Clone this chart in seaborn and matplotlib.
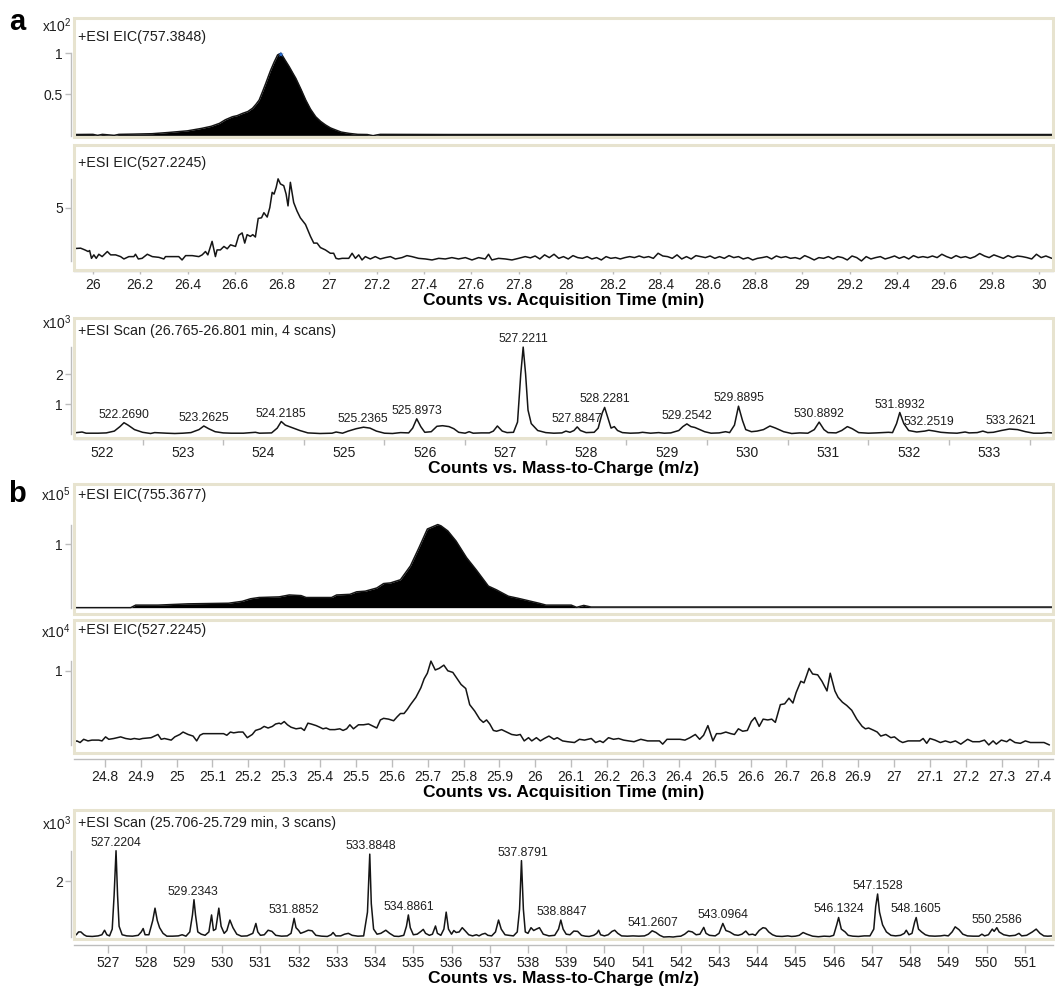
import numpy as np
import pandas as pd
import matplotlib
matplotlib.use("Agg")
import matplotlib.pyplot as plt
import seaborn as sns
from matplotlib.patches import Rectangle

# ------------------------------------------------------------------ data
# panel a, EIC 757.3848 (x10^2 counts) : (time, counts)
eic_a1 = [(25.92, 0.01), (26.00, 0.012), (26.02, 0.0), (26.04, 0.012), (26.09, 0.0), (26.11, 0.012),
          (26.17, 0.015), (26.25, 0.02), (26.32, 0.035), (26.40, 0.055), (26.46, 0.085), (26.50, 0.11),
          (26.535, 0.146), (26.56, 0.19), (26.59, 0.227), (26.61, 0.24), (26.633, 0.268), (26.655, 0.29),
          (26.675, 0.33), (26.69, 0.38), (26.703, 0.43), (26.717, 0.53), (26.731, 0.634), (26.742, 0.72),
          (26.752, 0.796), (26.766, 0.89), (26.781, 0.98), (26.795, 1.0), (26.812, 0.92), (26.83, 0.837),
          (26.845, 0.76), (26.858, 0.695), (26.88, 0.56), (26.90, 0.43), (26.92, 0.32), (26.942, 0.227),
          (26.963, 0.17), (26.984, 0.126), (27.005, 0.09), (27.027, 0.065), (27.05, 0.04), (27.083, 0.024),
          (27.12, 0.012), (27.16, 0.01), (27.185, -0.004), (27.20, 0.005), (27.215, 0.012), (27.5, 0.01),
          (28.0, 0.01), (29.0, 0.01), (30.06, 0.01)]
apex_a1 = [(26.795, 0.985)]

# panel a, EIC 527.2245 : (time, counts)
eic_a2 = [(25.922, 1.70), (25.948, 1.73), (25.966, 1.59), (25.980, 1.46), (25.986, 1.54), (25.994, 0.91),
          (26.004, 1.19),
          (26.014, 0.91), (26.025, 1.24), (26.039, 1.05), (26.061, 1.46), (26.075, 1.19), (26.096, 1.19),
          (26.117, 1.05), (26.131, 0.86), (26.152, 1.05), (26.173, 1.05), (26.180, 1.24), (26.192, 0.86),
          (26.208, 0.91), (26.230, 1.24), (26.251, 1.05), (26.279, 0.99), (26.300, 0.86), (26.307, 1.05),
          (26.335, 1.05), (26.363, 1.05), (26.377, 0.78), (26.392, 1.13), (26.420, 1.13), (26.448, 1.05),
          (26.462, 1.19), (26.476, 1.46), (26.486, 1.19), (26.504, 2.28), (26.518, 1.05), (26.525, 1.59),
          (26.539, 1.59), (26.554, 1.87), (26.568, 1.68), (26.582, 2.00), (26.603, 1.87), (26.617, 2.77),
          (26.631, 2.96), (26.642, 2.14), (26.652, 2.82), (26.666, 2.68), (26.676, 2.82), (26.687, 2.63),
          (26.699, 4.13), (26.713, 4.18), (26.723, 4.59), (26.737, 4.24), (26.748, 5.00), (26.758, 6.23),
          (26.766, 6.09), (26.775, 6.63), (26.783, 7.32), (26.793, 6.91), (26.807, 6.77), (26.817, 6.09),
          (26.825, 5.14), (26.835, 7.04), (26.849, 5.41), (26.863, 4.73), (26.877, 4.18), (26.899, 3.64),
          (26.920, 2.68), (26.934, 2.14), (26.948, 2.14), (26.962, 1.78), (26.983, 1.59), (27.004, 1.32),
          (27.018, 1.32), (27.028, 0.91), (27.039, 0.86), (27.054, 0.91), (27.082, 0.91), (27.096, 1.32),
          (27.110, 0.91), (27.124, 1.19), (27.138, 0.78), (27.152, 1.05), (27.173, 0.86), (27.194, 1.05),
          (27.215, 0.86), (27.237, 0.97), (27.258, 1.05), (27.279, 0.86), (27.307, 0.97), (27.328, 1.13),
          (27.349, 1.05), (27.377, 0.91), (27.406, 0.86), (27.434, 0.78), (27.462, 0.91), (27.490, 0.86),
          (27.518, 0.97), (27.546, 0.86), (27.575, 0.97), (27.603, 0.78), (27.631, 0.97), (27.659, 0.86),
          (27.673, 1.24), (27.687, 0.78), (27.715, 0.91), (27.744, 0.86), (27.772, 0.78), (27.800, 0.91),
          (27.828, 1.05), (27.85, 0.95), (27.87, 1.10), (27.89, 0.86), (27.91, 1.19), (27.93, 0.97),
          (27.95, 1.24), (27.97, 0.91), (27.99, 1.05), (28.01, 0.86), (28.03, 1.13), (28.05, 0.97),
          (28.07, 0.91), (28.09, 1.05), (28.11, 0.86), (28.13, 0.97), (28.15, 0.78), (28.17, 1.05),
          (28.19, 0.91), (28.21, 0.97), (28.23, 0.86), (28.25, 0.97), (28.27, 1.05), (28.29, 0.97),
          (28.31, 1.10), (28.33, 0.97), (28.35, 1.05), (28.37, 0.91), (28.39, 1.32), (28.41, 1.10),
          (28.43, 1.05), (28.45, 0.91), (28.47, 1.19), (28.49, 0.86), (28.51, 1.05), (28.53, 0.86),
          (28.55, 1.13), (28.57, 1.05), (28.59, 0.97), (28.61, 1.10), (28.63, 0.91), (28.65, 1.05),
          (28.67, 0.91), (28.69, 1.13), (28.71, 0.97), (28.73, 1.05), (28.75, 0.86), (28.77, 0.97),
          (28.79, 0.78), (28.81, 0.91), (28.83, 0.97), (28.85, 1.05), (28.87, 0.86), (28.89, 1.10),
          (28.91, 0.97), (28.93, 1.05), (28.95, 0.91), (28.97, 0.97), (28.99, 0.86), (29.01, 1.13),
          (29.03, 0.97), (29.05, 0.78), (29.07, 0.97), (29.09, 0.91), (29.11, 1.05), (29.13, 0.86),
          (29.15, 1.05), (29.17, 0.97), (29.19, 0.78), (29.21, 1.10), (29.23, 0.97), (29.25, 0.70),
          (29.27, 1.05), (29.29, 0.86), (29.31, 0.97), (29.33, 1.05), (29.35, 0.86), (29.37, 0.97),
          (29.39, 1.10), (29.41, 0.91), (29.43, 1.05), (29.45, 0.86), (29.47, 1.13), (29.49, 0.97),
          (29.51, 1.05), (29.53, 0.97), (29.55, 1.10), (29.57, 0.97), (29.59, 1.24), (29.61, 1.05),
          (29.63, 0.91), (29.65, 1.13), (29.67, 0.97), (29.69, 1.05), (29.71, 0.91), (29.73, 1.05),
          (29.75, 1.30), (29.77, 1.10), (29.79, 0.97), (29.81, 1.19), (29.83, 1.05), (29.85, 0.91),
          (29.87, 1.13), (29.89, 0.97), (29.91, 1.10), (29.93, 1.05), (29.95, 0.97), (29.97, 0.86),
          (29.99, 1.24), (30.01, 0.97), (30.03, 1.10), (30.055, 0.91)]

# panel a, scan spectrum (x10^3 counts) : (m/z, counts)
scan_a = [(521.65, 0.04), (521.75, 0.07), (521.80, 0.03), (521.95, 0.03), (522.05, 0.04), (522.15, 0.10),
          (522.22, 0.25), (522.27, 0.38), (522.32, 0.30), (522.40, 0.15), (522.50, 0.06), (522.60, 0.02),
          (522.65, 0.05), (522.72, 0.04), (522.80, 0.03), (522.90, 0.02), (523.00, 0.03), (523.10, 0.05),
          (523.20, 0.15), (523.26, 0.27), (523.32, 0.18), (523.40, 0.08), (523.50, 0.04), (523.60, 0.03),
          (523.75, 0.03), (523.90, 0.06), (523.95, 0.03), (524.10, 0.04), (524.17, 0.20), (524.22, 0.42),
          (524.27, 0.30), (524.35, 0.22), (524.45, 0.12), (524.55, 0.04), (524.70, 0.02), (524.85, 0.03),
          (524.90, 0.07), (524.98, 0.03), (525.05, 0.10), (525.15, 0.18), (525.24, 0.23), (525.32, 0.20),
          (525.40, 0.10), (525.50, 0.03), (525.60, 0.02), (525.70, 0.05), (525.80, 0.04), (525.85, 0.20),
          (525.90, 0.51), (525.95, 0.25), (526.00, 0.06), (526.08, 0.08), (526.15, 0.26), (526.22, 0.28),
          (526.30, 0.25), (526.36, 0.18), (526.42, 0.06), (526.50, 0.03), (526.55, 0.08), (526.60, 0.03),
          (526.70, 0.04), (526.80, 0.04), (526.85, 0.10), (526.90, 0.27), (526.96, 0.10), (527.02, 0.05),
          (527.10, 0.06), (527.15, 0.40), (527.19, 2.00), (527.22, 2.90), (527.25, 2.00), (527.28, 0.80),
          (527.32, 0.35), (527.40, 0.12), (527.50, 0.05), (527.60, 0.03), (527.70, 0.04), (527.75, 0.10),
          (527.80, 0.06), (527.85, 0.12), (527.89, 0.24), (527.93, 0.12), (528.00, 0.05), (528.10, 0.06),
          (528.15, 0.20), (528.20, 0.70), (528.23, 0.89), (528.27, 0.55), (528.31, 0.20), (528.35, 0.25),
          (528.39, 0.12), (528.45, 0.05), (528.55, 0.03), (528.65, 0.04), (528.70, 0.06), (528.80, 0.03),
          (528.90, 0.05), (528.97, 0.03), (529.05, 0.04), (529.15, 0.12), (529.20, 0.25), (529.25, 0.34),
          (529.30, 0.25), (529.35, 0.22), (529.40, 0.16), (529.47, 0.08), (529.55, 0.03), (529.65, 0.04),
          (529.73, 0.08), (529.78, 0.05), (529.84, 0.30), (529.89, 0.93), (529.94, 0.45), (529.98, 0.15),
          (530.05, 0.08), (530.12, 0.10), (530.20, 0.15), (530.28, 0.27), (530.35, 0.20), (530.45, 0.08),
          (530.55, 0.02), (530.65, 0.04), (530.75, 0.03), (530.83, 0.15), (530.89, 0.40), (530.95, 0.15),
          (531.00, 0.05), (531.10, 0.04), (531.17, 0.12), (531.24, 0.25), (531.30, 0.18), (531.38, 0.05),
          (531.50, 0.03), (531.60, 0.04), (531.75, 0.06), (531.80, 0.05), (531.85, 0.35), (531.89, 0.72),
          (531.94, 0.35), (532.00, 0.12), (532.10, 0.07), (532.20, 0.10), (532.25, 0.13), (532.32, 0.10),
          (532.40, 0.06), (532.50, 0.04), (532.60, 0.03), (532.70, 0.07), (532.75, 0.04), (532.85, 0.05),
          (532.92, 0.10), (532.98, 0.05), (533.05, 0.06), (533.15, 0.12), (533.25, 0.17), (533.35, 0.15),
          (533.45, 0.08), (533.55, 0.03), (533.65, 0.03), (533.72, 0.05), (533.79, 0.04)]
labels_a = [522.2690, 523.2625, 524.2185, 525.2365, 525.8973, 527.2211, 527.8847, 528.2281,
            529.2542, 529.8895, 530.8892, 531.8932, 532.2519, 533.2621]

# panel b, EIC 755.3677 (x10^5 counts)
eic_b1 = [(24.714, 0.0), (24.872, 0.0), (24.886, 0.04), (24.948, 0.04), (25.032, 0.06), (25.145, 0.07),
          (25.183, 0.10), (25.206, 0.14), (25.230, 0.16), (25.286, 0.17), (25.314, 0.20), (25.347, 0.19),
          (25.361, 0.16), (25.432, 0.16), (25.446, 0.20), (25.483, 0.21), (25.502, 0.25), (25.526, 0.26),
          (25.558, 0.31), (25.577, 0.38), (25.596, 0.39), (25.624, 0.44), (25.652, 0.66), (25.676, 0.95),
          (25.699, 1.24), (25.728, 1.31), (25.737, 1.29), (25.756, 1.21), (25.779, 1.05), (25.808, 0.79),
          (25.836, 0.59), (25.869, 0.34), (25.892, 0.28), (25.905, 0.24), (25.925, 0.18), (25.95, 0.15),
          (25.98, 0.11), (26.01, 0.07), (26.03, 0.04), (26.10, 0.04), (26.115, 0.005), (26.135, 0.035),
          (26.155, 0.01), (27.443, 0.01)]

# panel b, EIC 527.2245 (x10^4 counts)
eic_b2 = [(24.716, 0.12), (24.722, 0.13), (24.731, 0.11), (24.741, 0.15), (24.753, 0.13), (24.764, 0.14),
          (24.783, 0.14),
          (24.792, 0.13), (24.802, 0.18), (24.811, 0.15), (24.825, 0.16), (24.844, 0.18), (24.858, 0.16),
          (24.872, 0.15), (24.882, 0.16), (24.896, 0.15), (24.905, 0.16), (24.929, 0.17), (24.948, 0.21),
          (24.957, 0.15), (24.966, 0.16), (24.976, 0.15), (24.985, 0.14), (24.995, 0.18), (25.009, 0.21),
          (25.018, 0.24), (25.032, 0.21), (25.046, 0.19), (25.056, 0.13), (25.065, 0.20), (25.074, 0.22),
          (25.093, 0.22), (25.112, 0.22), (25.131, 0.22), (25.140, 0.20), (25.150, 0.24), (25.159, 0.23),
          (25.173, 0.24), (25.185, 0.24), (25.197, 0.17), (25.211, 0.21), (25.220, 0.26), (25.234, 0.28),
          (25.244, 0.31), (25.255, 0.29), (25.267, 0.31), (25.276, 0.34), (25.286, 0.35), (25.291, 0.34),
          (25.300, 0.37), (25.309, 0.33), (25.319, 0.30), (25.333, 0.28), (25.347, 0.29), (25.356, 0.26),
          (25.366, 0.35), (25.375, 0.34), (25.389, 0.32), (25.399, 0.30), (25.408, 0.28), (25.417, 0.29),
          (25.427, 0.27), (25.441, 0.27), (25.455, 0.28), (25.464, 0.26), (25.474, 0.28), (25.483, 0.33),
          (25.493, 0.28), (25.507, 0.33), (25.521, 0.33), (25.535, 0.34), (25.544, 0.32), (25.558, 0.29),
          (25.568, 0.39), (25.577, 0.41), (25.591, 0.40), (25.605, 0.38), (25.615, 0.43), (25.624, 0.47),
          (25.634, 0.47), (25.643, 0.52), (25.652, 0.58), (25.667, 0.67), (25.681, 0.79), (25.690, 0.90),
          (25.699, 0.97), (25.709, 1.12), (25.721, 1.01), (25.732, 1.03), (25.745, 1.07), (25.756, 1.00),
          (25.770, 0.98), (25.784, 0.89), (25.793, 0.83), (25.806, 0.78), (25.817, 0.58), (25.831, 0.50),
          (25.845, 0.40), (25.855, 0.36), (25.864, 0.39), (25.873, 0.34), (25.883, 0.26), (25.892, 0.25),
          (25.906, 0.27), (25.920, 0.24), (25.934, 0.21), (25.948, 0.20), (25.958, 0.21), (25.969, 0.13),
          (25.981, 0.17), (25.990, 0.13), (26.003, 0.17), (26.014, 0.13), (26.025, 0.16), (26.038, 0.19),
          (26.052, 0.15), (26.061, 0.17), (26.076, 0.13), (26.090, 0.12), (26.109, 0.11), (26.123, 0.15),
          (26.137, 0.14), (26.156, 0.16), (26.168, 0.11), (26.180, 0.13), (26.189, 0.11), (26.204, 0.17),
          (26.218, 0.15), (26.232, 0.16), (26.246, 0.14), (26.261, 0.13), (26.275, 0.12), (26.294, 0.15),
          (26.313, 0.13), (26.332, 0.13), (26.346, 0.13), (26.355, 0.09), (26.367, 0.15), (26.384, 0.15),
          (26.403, 0.15), (26.417, 0.14), (26.431, 0.17), (26.446, 0.21), (26.458, 0.15), (26.469, 0.20),
          (26.481, 0.32), (26.495, 0.13), (26.505, 0.22), (26.517, 0.22), (26.531, 0.24), (26.545, 0.22),
          (26.555, 0.21), (26.566, 0.28), (26.578, 0.25), (26.591, 0.26), (26.602, 0.37), (26.612, 0.42),
          (26.624, 0.31), (26.635, 0.40), (26.648, 0.39), (26.659, 0.40), (26.669, 0.36), (26.683, 0.58),
          (26.695, 0.59), (26.707, 0.66), (26.718, 0.60), (26.727, 0.73), (26.740, 0.87), (26.749, 0.85),
          (26.763, 1.03), (26.773, 0.96), (26.787, 0.95), (26.799, 0.87), (26.813, 0.75), (26.822, 0.97),
          (26.835, 0.75), (26.844, 0.67), (26.856, 0.61), (26.868, 0.57), (26.882, 0.51), (26.896, 0.40),
          (26.911, 0.31), (26.920, 0.28), (26.929, 0.29), (26.944, 0.26), (26.953, 0.24), (26.963, 0.19),
          (26.977, 0.21), (26.991, 0.17), (27.001, 0.18), (27.015, 0.13), (27.024, 0.11), (27.039, 0.13),
          (27.058, 0.13), (27.072, 0.13), (27.081, 0.16), (27.091, 0.10), (27.100, 0.16), (27.114, 0.14),
          (27.129, 0.11), (27.143, 0.13), (27.157, 0.11), (27.171, 0.13), (27.186, 0.09), (27.205, 0.15),
          (27.219, 0.12), (27.238, 0.12), (27.252, 0.14), (27.264, 0.08), (27.276, 0.13), (27.285, 0.09),
          (27.299, 0.14), (27.314, 0.12), (27.323, 0.15), (27.337, 0.11), (27.352, 0.10), (27.366, 0.13),
          (27.380, 0.11), (27.399, 0.11), (27.418, 0.11), (27.433, 0.08)]

# panel b, scan spectrum (x10^3 counts)
scan_b = [(526.12, 0.12), (526.18, 0.10), (526.24, 0.20), (526.30, 0.20), (526.38, 0.10), (526.45, 0.05),
          (526.60, 0.04), (526.75, 0.06), (526.85, 0.10), (526.92, 0.26), (526.98, 0.10), (527.05, 0.06),
          (527.12, 0.30), (527.17, 1.50), (527.22, 3.07), (527.26, 1.50), (527.30, 0.40), (527.38, 0.10),
          (527.50, 0.06), (527.65, 0.05), (527.80, 0.08), (527.88, 0.20), (527.93, 0.32), (527.98, 0.10),
          (528.08, 0.10), (528.18, 0.60), (528.24, 1.04), (528.30, 0.60), (528.36, 0.35), (528.45, 0.15),
          (528.55, 0.05), (528.70, 0.05), (528.85, 0.06), (528.95, 0.10), (529.05, 0.05), (529.15, 0.20),
          (529.22, 0.80), (529.26, 1.34), (529.30, 0.80), (529.36, 0.20), (529.45, 0.12), (529.55, 0.08),
          (529.65, 0.20), (529.72, 0.80), (529.77, 0.25), (529.83, 0.30), (529.91, 1.04), (529.97, 0.40),
          (530.05, 0.15), (530.12, 0.25), (530.20, 0.62), (530.28, 0.35), (530.38, 0.12), (530.50, 0.05),
          (530.65, 0.06), (530.80, 0.15), (530.88, 0.50), (530.93, 0.20), (531.00, 0.08), (531.10, 0.10),
          (531.20, 0.26), (531.30, 0.22), (531.40, 0.08), (531.55, 0.05), (531.70, 0.06), (531.80, 0.15),
          (531.88, 0.68), (531.93, 0.35), (532.00, 0.25), (532.05, 0.15), (532.15, 0.20), (532.25, 0.26),
          (532.35, 0.24), (532.45, 0.08), (532.60, 0.05), (532.75, 0.04), (532.85, 0.10), (532.90, 0.18),
          (532.97, 0.06), (533.10, 0.06), (533.20, 0.12), (533.30, 0.15), (533.40, 0.08), (533.55, 0.05),
          (533.70, 0.06), (533.80, 0.90), (533.86, 2.95), (533.90, 1.20), (533.96, 0.30), (534.05, 0.12),
          (534.15, 0.15), (534.28, 0.26), (534.38, 0.15), (534.50, 0.05), (534.62, 0.04), (534.75, 0.08),
          (534.82, 0.40), (534.87, 0.80), (534.92, 0.35), (535.00, 0.10), (535.10, 0.12), (535.20, 0.22),
          (535.26, 0.29), (535.32, 0.15), (535.42, 0.08), (535.50, 0.12), (535.58, 0.41), (535.63, 0.15),
          (535.72, 0.08), (535.80, 0.30), (535.86, 0.90), (535.92, 0.30), (536.00, 0.12), (536.06, 0.25),
          (536.12, 0.18), (536.20, 0.20), (536.28, 0.35), (536.35, 0.25), (536.45, 0.10), (536.55, 0.06),
          (536.65, 0.10), (536.72, 0.06), (536.80, 0.12), (536.88, 0.15), (536.95, 0.08), (537.05, 0.06),
          (537.15, 0.20), (537.23, 0.62), (537.30, 0.30), (537.40, 0.10), (537.50, 0.08), (537.62, 0.06),
          (537.72, 0.20), (537.78, 1.00), (537.83, 2.72), (537.88, 1.00), (537.93, 0.20), (538.00, 0.15),
          (538.08, 0.35), (538.15, 0.25), (538.22, 0.30), (538.30, 0.35), (538.40, 0.12), (538.55, 0.06),
          (538.70, 0.08), (538.80, 0.30), (538.86, 0.62), (538.92, 0.30), (539.00, 0.12), (539.10, 0.10),
          (539.20, 0.23), (539.30, 0.22), (539.40, 0.08), (539.50, 0.05), (539.60, 0.04), (539.72, 0.08),
          (539.80, 0.15), (539.85, 0.26), (539.90, 0.10), (540.00, 0.06), (540.10, 0.10), (540.20, 0.22),
          (540.27, 0.26), (540.35, 0.15), (540.45, 0.06), (540.60, 0.05), (540.75, 0.06), (540.90, 0.05),
          (541.05, 0.06), (541.15, 0.12), (541.25, 0.24), (541.35, 0.18), (541.45, 0.08), (541.55, 0.02),
          (541.70, 0.03), (541.80, 0.02), (541.90, 0.04), (542.00, 0.05), (542.10, 0.12), (542.20, 0.23),
          (542.30, 0.20), (542.40, 0.10), (542.50, 0.12), (542.60, 0.36), (542.66, 0.15), (542.75, 0.08),
          (542.90, 0.06), (543.00, 0.15), (543.10, 0.50), (543.18, 0.25), (543.28, 0.20), (543.40, 0.10),
          (543.50, 0.08), (543.60, 0.12), (543.70, 0.23), (543.78, 0.10), (543.88, 0.12), (543.95, 0.08),
          (544.05, 0.25), (544.15, 0.35), (544.22, 0.33), (544.30, 0.20), (544.40, 0.10), (544.50, 0.05),
          (544.65, 0.04), (544.80, 0.06), (544.90, 0.04), (545.00, 0.05), (545.10, 0.08), (545.20, 0.18),
          (545.30, 0.12), (545.45, 0.05), (545.60, 0.03), (545.75, 0.05), (545.90, 0.04), (546.00, 0.08),
          (546.08, 0.45), (546.13, 0.71), (546.20, 0.30), (546.30, 0.20), (546.38, 0.08), (546.50, 0.05),
          (546.65, 0.04), (546.80, 0.06), (546.95, 0.06), (547.05, 0.30), (547.10, 1.10), (547.15, 1.54),
          (547.20, 0.90), (547.28, 0.45), (547.38, 0.20), (547.50, 0.08), (547.62, 0.06), (547.75, 0.08),
          (547.85, 0.15), (547.90, 0.26), (547.97, 0.10), (548.05, 0.15), (548.12, 0.55), (548.16, 0.71),
          (548.22, 0.30), (548.30, 0.20), (548.40, 0.10), (548.50, 0.06), (548.65, 0.05), (548.80, 0.06),
          (548.90, 0.08), (549.00, 0.06), (549.10, 0.20), (549.18, 0.38), (549.28, 0.28), (549.38, 0.12),
          (549.50, 0.06), (549.65, 0.05), (549.80, 0.05), (549.88, 0.12), (549.95, 0.06), (550.05, 0.10),
          (550.15, 0.30), (550.20, 0.22), (550.27, 0.35), (550.33, 0.20), (550.45, 0.10), (550.60, 0.06),
          (550.75, 0.08), (550.85, 0.15), (550.92, 0.06), (551.05, 0.08), (551.20, 0.20), (551.30, 0.30),
          (551.40, 0.15), (551.50, 0.06), (551.60, 0.05), (551.74, 0.06)]
labels_b = [527.2204, 529.2343, 531.8852, 533.8848, 534.8861, 537.8791, 538.8847, 541.2607,
            543.0964, 546.1324, 547.1528, 548.1605, 550.2586]

# tick labels
ticks_time_a = ["26", "26.2", "26.4", "26.6", "26.8", "27", "27.2", "27.4", "27.6", "27.8", "28",
                "28.2", "28.4", "28.6", "28.8", "29", "29.2", "29.4", "29.6", "29.8", "30"]
ticks_mz_a = ["522", "523", "524", "525", "526", "527", "528", "529", "530", "531", "532", "533"]
ticks_time_b = ["24.8", "24.9", "25", "25.1", "25.2", "25.3", "25.4", "25.5", "25.6", "25.7", "25.8",
                "25.9", "26", "26.1", "26.2", "26.3", "26.4", "26.5", "26.6", "26.7", "26.8", "26.9",
                "27", "27.1", "27.2", "27.3", "27.4"]
ticks_mz_b = [str(v) for v in range(527, 552)]

titles = ["+ESI EIC(757.3848)", "+ESI EIC(527.2245)", "+ESI Scan (26.765-26.801 min, 4 scans)",
          "+ESI EIC(755.3677)", "+ESI EIC(527.2245)", "+ESI Scan (25.706-25.729 min, 3 scans)"]
xlabel_time = "Counts vs. Acquisition Time (min)"
xlabel_mz = "Counts vs. Mass-to-Charge (m/z)"

# ------------------------------------------------------------------ style
sns.set_theme(style="white")
plt.rcParams['font.family'] = ['Liberation Sans', 'DejaVu Sans']
plt.rcParams['mathtext.fontset'] = 'custom'
plt.rcParams['mathtext.rm'] = 'Liberation Sans'
plt.rcParams['mathtext.it'] = 'Liberation Sans:italic'
plt.rcParams['mathtext.bf'] = 'Liberation Sans:bold'

W, H = 1055, 988
fig = plt.figure(figsize=(W / 100, H / 100), dpi=100)
fig.patch.set_facecolor('white')

FRAME = '#e7e3cf'
AXIS = '#bdbdbd'
LINE = '#151515'
TXT = '#1e1e1e'
L, R = 74, 1053


def make_ax(top, bottom):
    return fig.add_axes([L / W, 1 - bottom / H, (R - L) / W, (bottom - top) / H])


def df_of(points, xname, yname):
    return pd.DataFrame(points, columns=[xname, yname])


def style(ax, xlim, ylim, yticks, ybounds, xticklabels=None, xlabel=None, kind=None,
          title=None, title_dy=12, expo=None, expo_y=None, xlabel_dy=30):
    ax.set_xlim(*xlim)
    ax.set_ylim(*ylim)
    ax.set_facecolor('white')
    for s in ['top', 'right']:
        ax.spines[s].set_visible(False)
    ax.spines['left'].set_position(('outward', 2))
    ax.spines['left'].set_bounds(*ybounds)
    ax.spines['left'].set_color(AXIS)
    ax.spines['left'].set_linewidth(1.0)
    ax.set_yticks(yticks)
    ax.set_yticklabels([f"{t:g}" for t in yticks])
    ax.tick_params(axis='y', left=True, direction='out', length=4, width=1, color=AXIS,
                   labelsize=10, labelcolor=TXT, pad=2)
    if xticklabels is None:
        ax.spines['bottom'].set_visible(False)
        ax.set_xticks([])
    else:
        major = [float(s) for s in xticklabels]
        ax.set_xticks(major)
        ax.set_xticklabels(xticklabels)
        ax.spines['bottom'].set_color(AXIS)
        ax.spines['bottom'].set_linewidth(1.0)
        if kind == 'b':
            ax.spines['bottom'].set_position(('outward', 4))
            ax.tick_params(axis='x', bottom=True, direction='out', length=6, width=1, color=AXIS,
                           labelsize=10, labelcolor=TXT, pad=2)
        elif kind == 'a_mz':
            ax.spines['bottom'].set_position(('outward', 1))
            ax.set_xticks([m + 0.5 for m in major], minor=True)
            ax.tick_params(axis='x', which='major', bottom=True, direction='out', length=0,
                           labelsize=10, labelcolor=TXT, pad=5)
            ax.tick_params(axis='x', which='minor', bottom=True, direction='out', length=4,
                           width=1, color=AXIS)
        else:
            ax.spines['bottom'].set_position(('outward', 1))
            ax.tick_params(axis='x', bottom=True, direction='out', length=2, width=1, color=AXIS,
                           labelsize=10, labelcolor=TXT, pad=3)
        ax.annotate(xlabel, xy=(0.5, 0), xycoords='axes fraction', xytext=(0, -xlabel_dy),
                    textcoords='offset pixels', ha='center', va='center', fontsize=12.5,
                    fontweight='bold', color='black')
    ax.set_xlabel('')
    ax.set_ylabel('')
    ax.add_patch(Rectangle((0, 0), 1, 1, transform=ax.transAxes, fill=False, ec=FRAME,
                           lw=2.2, clip_on=False, zorder=6))
    if title:
        ax.annotate(title, xy=(0, 1), xycoords='axes fraction', xytext=(4, -title_dy),
                    textcoords='offset pixels', ha='left', va='center', fontsize=10.3, color=TXT)
    if expo:
        fig.text(71 / W, 1 - expo_y / H, expo, ha='right', va='baseline', fontsize=10, color=TXT)


def trace(ax, points, fill=False):
    d = df_of(points, 'x', 'y')
    if fill:
        ax.fill_between(d['x'], 0, d['y'], color='black', lw=0, zorder=2)
    sns.lineplot(data=d, x='x', y='y', ax=ax, color=LINE, lw=1.1, sort=False,
                 estimator=None, legend=False, zorder=3)
    return d


def peak_labels(ax, d, labels):
    for mz in labels:
        win = d[(d['x'] > mz - 0.06) & (d['x'] < mz + 0.06)]
        h = win['y'].max()
        ax.annotate(f"{mz:.4f}", xy=(mz, h), xytext=(0, 2), textcoords='offset pixels',
                    ha='center', va='bottom', fontsize=8.8, color=TXT)


# ---- panel a
ax = make_ax(18, 137)
d = trace(ax, eic_a1, fill=True)
ap = df_of(apex_a1, 'x', 'y')
sns.scatterplot(data=ap, x='x', y='y', ax=ax, marker='*', s=18, color='#2a6fd6',
                edgecolor='none', zorder=4, legend=False)
style(ax, (25.92, 30.06), (-0.02, 1.43), [0.5, 1], (d['y'].min(), d['y'].max()),
      title=titles[0], title_dy=19, expo=r"x10$^{2}$", expo_y=32)

ax = make_ax(145, 270)
d = trace(ax, eic_a2)
style(ax, (25.92, 30.06), (-0.03, 10.05), [5], (d['y'].min(), d['y'].max()),
      xticklabels=ticks_time_a, xlabel=xlabel_time, title=titles[1], title_dy=18, xlabel_dy=30)

ax = make_ax(318, 438)
d = trace(ax, scan_a)
peak_labels(ax, d, labels_a)
style(ax, (521.65, 533.79), (-0.13, 3.87), [1, 2], (d['y'].min(), d['y'].max()),
      xticklabels=ticks_mz_a, xlabel=xlabel_mz, kind='a_mz', title=titles[2], title_dy=13,
      expo=r"x10$^{3}$", expo_y=329, xlabel_dy=30)

# ---- panel b
ax = make_ax(484, 614)
d = trace(ax, eic_b1, fill=True)
style(ax, (24.714, 27.443), (-0.10, 1.95), [1], (d['y'].min(), d['y'].max()),
      title=titles[3], title_dy=11, expo=r"x10$^{5}$", expo_y=501)

ax = make_ax(620, 753)
d = trace(ax, eic_b2)
style(ax, (24.714, 27.443), (-0.02, 1.63), [1], (d['y'].min(), d['y'].max()),
      xticklabels=ticks_time_b, xlabel=xlabel_time, kind='b', title=titles[4], title_dy=10,
      expo=r"x10$^{4}$", expo_y=638, xlabel_dy=39)

ax = make_ax(810, 939)
d = trace(ax, scan_b)
peak_labels(ax, d, labels_b)
style(ax, (526.12, 551.74), (-0.05, 4.51), [2], (d['y'].min(), d['y'].max()),
      xticklabels=ticks_mz_b, xlabel=xlabel_mz, kind='b', title=titles[5], title_dy=13.5,
      expo=r"x10$^{3}$", expo_y=830, xlabel_dy=39)

# panel letters
fig.text(17 / W, 1 - 30 / H, 'a', ha='center', va='baseline', fontsize=21, fontweight='bold',
         color='black')
fig.text(17 / W, 1 - 502 / H, 'b', ha='center', va='baseline', fontsize=21, fontweight='bold',
         color='black')

fig.savefig('out.png', dpi=100, facecolor='white')
